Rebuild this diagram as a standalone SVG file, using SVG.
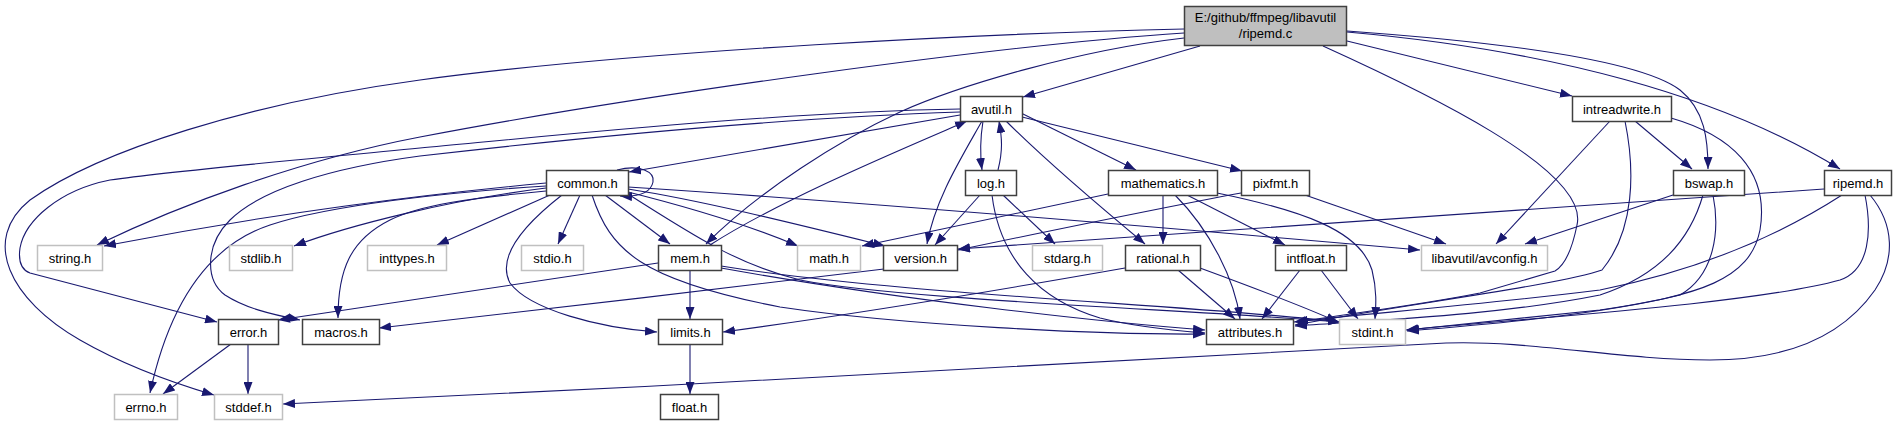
<svg xmlns="http://www.w3.org/2000/svg" width="1902" height="425" viewBox="0 0 1902 425">
<style>
.bg{fill:#ffffff}
.n rect{fill:#ffffff;stroke:#404040;stroke-width:1.5}
.g rect{fill:#ffffff;stroke:#c0c0c0;stroke-width:1.5}
.m rect{fill:#bfbfbf;stroke:#404040;stroke-width:1.5}
text{font-family:"Liberation Sans",Arial,sans-serif;font-size:13px;fill:#000000;text-anchor:middle}
#edges path{fill:none;stroke:#191970;stroke-width:1.1;marker-end:url(#ah)}
</style>
<defs>
<marker id="ah" markerWidth="12" markerHeight="9" refX="12" refY="4.5" orient="auto" markerUnits="userSpaceOnUse">
<path d="M0,0 L12,4.5 L0,9 z" fill="#191970" stroke="none"/>
</marker>
</defs>
<rect class="bg" x="0" y="0" width="1902" height="425"/>
<g id="edges">
<!-- main -->
<path d="M1200,46 L1023,97"/>
<path d="M1347,41 L1572,96"/>
<path d="M1323,46 C1420,90 1590,170 1577,225 C1572,250 1565,265 1555,271 L1480,293 C1420,305 1340,315 1296,322"/>
<path d="M1347,31 C1500,42 1640,60 1680,90 C1705,110 1708,140 1708,169"/>
<path d="M1347,32 C1550,50 1720,95 1840,169"/>
<path d="M1184,29 C1000,33 640,50 420,80 C250,103 100,150 30,200 C-20,240 10,300 80,340 C120,363 170,382 214,395"/>
<path d="M1184,33 C1000,45 640,95 420,137 C300,160 180,205 97,245"/>
<path d="M1184,38 C1080,50 960,85 900,112 C840,140 760,190 706,244"/>
<!-- avutil -->
<path d="M960,115 L629,172"/>
<path d="M960,109 C780,112 560,135 420,148 C320,158 180,170 110,180 C60,190 25,220 20,248 C18,262 22,270 30,273 L217,322"/>
<path d="M960,112 C780,118 560,140 420,156 C330,168 260,190 230,220 C205,245 205,280 225,295 C245,308 270,314 300,320"/>
<path d="M983,121 C980,140 980,155 982,170"/>
<path d="M982,121 C960,160 935,200 927,244"/>
<path d="M1006,121 C1050,165 1110,215 1145,244"/>
<path d="M1021,113 L1136,170"/>
<path d="M1022,117 L1242,171"/>
<!-- log -->
<path d="M998,170 C1003,150 1002,138 999,121"/>
<path d="M980,195 L935,245"/>
<path d="M1003,195 L1055,244"/>
<path d="M992,195 C1000,260 1040,300 1100,318 C1140,328 1180,331 1205,333"/>
<!-- mem -->
<path d="M710,245 C780,200 900,150 967,121"/>
<path d="M690,270 L690,319"/>
<path d="M658,263 L278,320"/>
<path d="M721,266 C900,295 1200,305 1340,322"/>
<path d="M721,268 C900,300 1100,322 1205,330"/>
<!-- limits, error, version -->
<path d="M690,344 L690,394"/>
<path d="M231,344 L163,394"/>
<path d="M248,344 L248,394"/>
<path d="M884,269 C750,285 500,315 379,328"/>
<!-- mathematics -->
<path d="M1108,194 L862,246"/>
<path d="M1163,195 L1163,244"/>
<path d="M1175,195 C1210,230 1235,280 1240,319"/>
<path d="M1187,195 L1285,245"/>
<path d="M1217,193 C1300,210 1360,230 1372,270 C1377,290 1376,305 1375,319"/>
<!-- rational, intfloat -->
<path d="M1125,268 C1000,290 850,315 723,332"/>
<path d="M1178,270 L1235,319"/>
<path d="M1200,268 C1260,290 1300,305 1338,322"/>
<path d="M1300,270 L1262,319"/>
<path d="M1321,270 L1358,319"/>
<!-- pixfmt -->
<path d="M1241,193 C1150,210 1030,235 958,250"/>
<path d="M1305,195 L1446,244"/>
<!-- ripemd -->
<path d="M1824,189 C1500,212 1100,237 958,249"/>
<path d="M1842,195 C1780,235 1700,270 1600,290 C1480,305 1350,315 1294,322"/>
<path d="M1865,195 C1872,230 1870,270 1840,280 C1750,305 1500,320 1406,330"/>
<path d="M1870,195 C1895,225 1895,260 1875,290 C1840,340 1780,360 1710,360 C1620,360 1530,340 1446,343 C1250,355 700,385 283,404"/>
<!-- intreadwrite -->
<path d="M1610,121 L1496,244"/>
<path d="M1635,121 L1692,169"/>
<path d="M1625,121 C1635,170 1635,230 1602,270 C1560,285 1400,305 1295,325"/>
<path d="M1671,118 C1730,135 1770,170 1760,230 C1750,280 1700,295 1600,310 C1500,320 1450,325 1407,330"/>
<!-- bswap -->
<path d="M1673,195 L1525,244"/>
<path d="M1703,195 C1690,240 1660,275 1600,295 C1500,315 1380,320 1295,326"/>
<path d="M1713,195 C1720,230 1715,275 1680,295 C1600,315 1480,325 1407,331"/>
<!-- common -->
<path d="M546,183 C420,195 280,212 104,246"/>
<path d="M546,188 C450,200 350,225 294,246"/>
<path d="M550,195 L437,245"/>
<path d="M580,195 L558,244"/>
<path d="M546,186 C450,192 330,205 270,225 C210,245 170,300 150,393"/>
<path d="M546,191 C470,198 420,205 390,220 C350,240 338,270 338,318"/>
<path d="M562,195 C530,220 495,255 510,283 C530,310 600,328 657,332"/>
<path d="M605,195 L670,244"/>
<path d="M628,192 C700,210 760,230 798,246"/>
<path d="M628,189 C700,200 800,225 885,246"/>
<path d="M628,187 C800,198 1100,222 1420,250"/>
<path d="M592,195 C610,250 640,280 780,307 C900,325 1100,335 1205,334"/>
<path d="M628,194 C700,240 740,265 800,280 C900,300 1200,310 1340,322"/>
<path d="M617,170 C640,164 655,172 653,182 C651,192 640,197 620,196"/>
</g>
<g id="n-main" class="m"><rect x="1184.5" y="6.5" width="162" height="39"/><text x="1265.5" y="21.5">E:/github/ffmpeg/libavutil</text><text x="1265.5" y="37.5">/ripemd.c</text></g>
<g id="n-avutil" class="n"><rect x="960.5" y="96.5" width="62" height="25"/><text x="991.5" y="113.5">avutil.h</text></g>
<g id="n-intreadwrite" class="n"><rect x="1572.5" y="96.5" width="99" height="25"/><text x="1622" y="113.5">intreadwrite.h</text></g>
<g id="n-common" class="n"><rect x="546.5" y="170.5" width="82" height="25"/><text x="587.5" y="187.5">common.h</text></g>
<g id="n-log" class="n"><rect x="965.5" y="170.5" width="51" height="25"/><text x="991" y="187.5">log.h</text></g>
<g id="n-mathematics" class="n"><rect x="1108.5" y="170.5" width="109" height="25"/><text x="1163" y="187.5">mathematics.h</text></g>
<g id="n-pixfmt" class="n"><rect x="1241.5" y="170.5" width="68" height="25"/><text x="1275.5" y="187.5">pixfmt.h</text></g>
<g id="n-bswap" class="n"><rect x="1673.5" y="170.5" width="71" height="25"/><text x="1709" y="187.5">bswap.h</text></g>
<g id="n-ripemd" class="n"><rect x="1824.5" y="170.5" width="67" height="25"/><text x="1858" y="187.5">ripemd.h</text></g>
<g id="n-string" class="g"><rect x="37.5" y="245.5" width="65" height="25"/><text x="70" y="262.5">string.h</text></g>
<g id="n-stdlib" class="g"><rect x="229.5" y="245.5" width="63" height="25"/><text x="261" y="262.5">stdlib.h</text></g>
<g id="n-inttypes" class="g"><rect x="367.5" y="245.5" width="79" height="25"/><text x="407" y="262.5">inttypes.h</text></g>
<g id="n-stdio" class="g"><rect x="521.5" y="245.5" width="62" height="25"/><text x="552.5" y="262.5">stdio.h</text></g>
<g id="n-mem" class="n"><rect x="658.5" y="245.5" width="63" height="25"/><text x="690" y="262.5">mem.h</text></g>
<g id="n-math" class="g"><rect x="797.5" y="245.5" width="63" height="25"/><text x="829" y="262.5">math.h</text></g>
<g id="n-version" class="n"><rect x="883.5" y="245.5" width="74" height="25"/><text x="920.5" y="262.5">version.h</text></g>
<g id="n-stdarg" class="g"><rect x="1032.5" y="245.5" width="70" height="25"/><text x="1067.5" y="262.5">stdarg.h</text></g>
<g id="n-rational" class="n"><rect x="1125.5" y="245.5" width="75" height="25"/><text x="1163" y="262.5">rational.h</text></g>
<g id="n-intfloat" class="n"><rect x="1275.5" y="245.5" width="71" height="25"/><text x="1311" y="262.5">intfloat.h</text></g>
<g id="n-avconfig" class="g"><rect x="1421.5" y="245.5" width="126" height="25"/><text x="1484.5" y="262.5">libavutil/avconfig.h</text></g>
<g id="n-error" class="n"><rect x="218.5" y="319.5" width="60" height="25"/><text x="248.5" y="336.5">error.h</text></g>
<g id="n-macros" class="n"><rect x="302.5" y="319.5" width="77" height="25"/><text x="341" y="336.5">macros.h</text></g>
<g id="n-limits" class="n"><rect x="658.5" y="319.5" width="64" height="25"/><text x="690.5" y="336.5">limits.h</text></g>
<g id="n-attributes" class="n"><rect x="1206.5" y="319.5" width="87" height="25"/><text x="1250" y="336.5">attributes.h</text></g>
<g id="n-stdint" class="g"><rect x="1339.5" y="319.5" width="66" height="25"/><text x="1372.5" y="336.5">stdint.h</text></g>
<g id="n-errno" class="g"><rect x="114.5" y="394.5" width="63" height="25"/><text x="146" y="411.5">errno.h</text></g>
<g id="n-stddef" class="g"><rect x="214.5" y="394.5" width="68" height="25"/><text x="248.5" y="411.5">stddef.h</text></g>
<g id="n-float" class="n"><rect x="660.5" y="394.5" width="58" height="25"/><text x="689.5" y="411.5">float.h</text></g>
</svg>
